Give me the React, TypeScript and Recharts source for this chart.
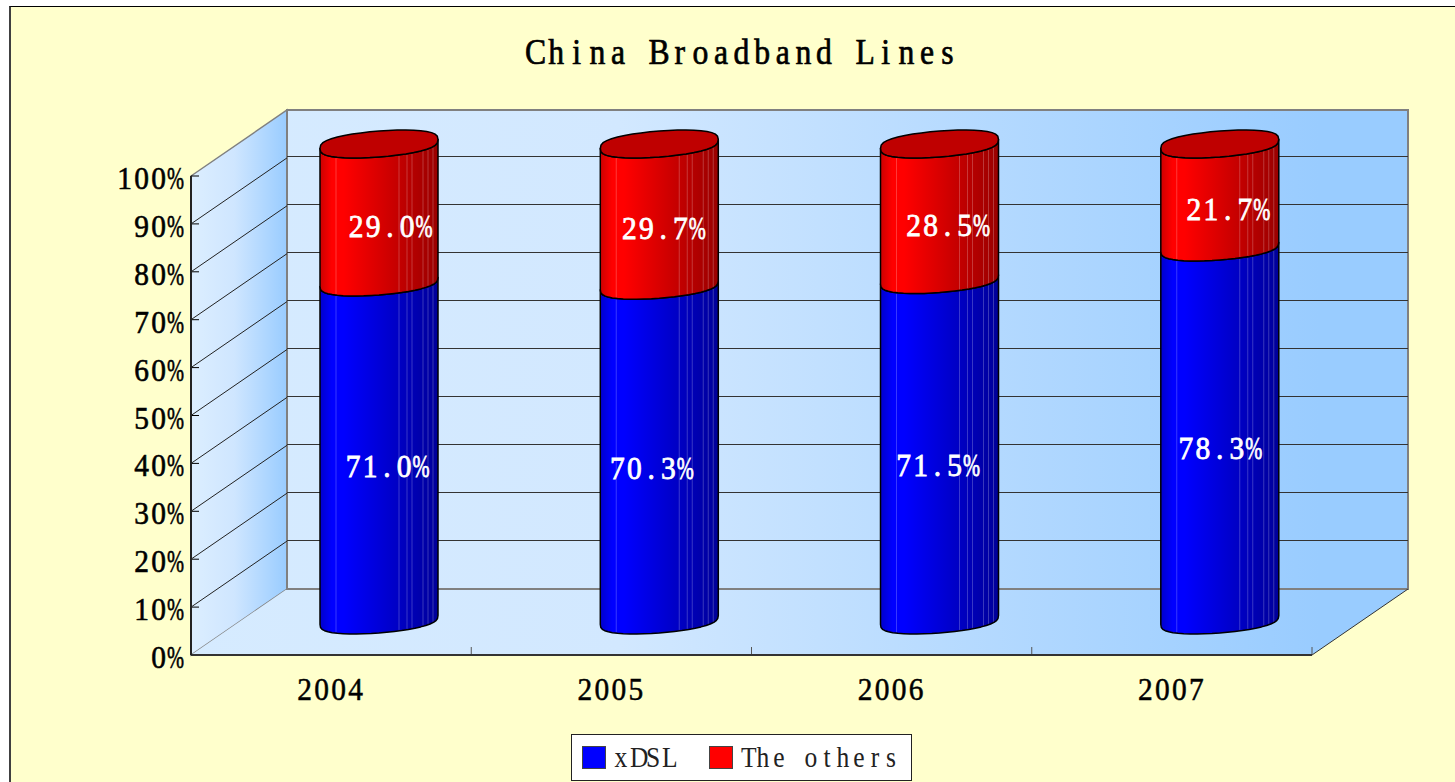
import React from "react";
import { BarChart, Bar, XAxis, YAxis, CartesianGrid, Legend, LabelList } from "recharts";

const YEARS = ["2004", "2005", "2006", "2007"];
const XDSL = [71.0, 70.3, 71.5, 78.3];
const OTHERS = [29.0, 29.7, 28.5, 21.7];
const Y_TICKS = [0, 10, 20, 30, 40, 50, 60, 70, 80, 90, 100];

const rows = YEARS.map((year, i) => ({ year, xdsl: XDSL[i], others: OTHERS[i] }));

// the data labels were hand placed, so each one has its own sideways nudge
const XDSL_LABEL_DX = [8, -8, -2, 0];
const OTHERS_LABEL_DX = [11, 4, 8, 8];

const WIDTH = 1455;
const HEIGHT = 782;
const PLOT = { left: 191, right: 1312, top: 176, bottom: 655 };
const DEPTH_X = 96;
const DEPTH_Y = 66;
const Y_AXIS_WIDTH = 80;
const X_AXIS_HEIGHT = 40;
const BAR_WIDTH = 118;
const CHAR_CELL = 17;

const PAPER = "#FFFFCC";
const EDGE = "#808080";
const SERIF = "'Liberation Serif', serif";

// Lays text out in equal character cells, the way a half-width CJK face does
const CellText = (props: any) => {
  const { text, x, y, cell = CHAR_CELL, fontSize = 31, squeeze = 0.95, fill = "#000", weight = 0.6 } = props;
  const chars: string[] = Array.from(text);
  const start = x - (chars.length * cell) / 2;
  return (
    <g>
      {chars.map((ch, i) =>
        ch === " " ? null : (
          <text
            key={i}
            transform={`translate(${start + cell * (i + 0.5)} ${y}) scale(${ch === "%" ? 0.66 : squeeze} 1)`}
            textAnchor="middle"
            fill={fill}
            stroke={fill}
            strokeWidth={weight}
            fontFamily={SERIF}
            fontSize={fontSize}
          >
            {ch}
          </text>
        )
      )}
    </g>
  );
};

// Tilted, slightly squared-off ellipse standing in for the cylinder's caps
const capPoint = (cx: number, cy: number, halfWidth: number, t: number) => {
  const s = Math.sin(t);
  return [cx + halfWidth * Math.cos(t), cy - 4.5 * Math.cos(t) + 13 * Math.sign(s) * Math.pow(Math.abs(s), 0.72)];
};

const arcPoints = (cx: number, cy: number, halfWidth: number, from: number, to: number, steps = 24) => {
  const pts: number[][] = [];
  for (let i = 0; i <= steps; i++) {
    pts.push(capPoint(cx, cy, halfWidth, from + ((to - from) * i) / steps));
  }
  return pts;
};

const toPath = (pts: number[][]) => pts.map((p, i) => `${i ? "L" : "M"}${p[0].toFixed(1)} ${p[1].toFixed(1)}`).join(" ");

const STRIPES = [16, 79, 87, 92, 103, 108, 113];

const Cylinder = (props: any) => {
  const { x, y, width, height, gradient, capFill } = props;
  const cx = x + width / 2 + DEPTH_X / 2;
  const halfWidth = width / 2;
  const topY = y - DEPTH_Y / 2 + (capFill ? 1 : 0);
  // the foot sits a touch higher on the floor than the mid-depth line
  const foot = y + height >= PLOT.bottom - 1 ? 2 : 0;
  const bottomY = y + height - DEPTH_Y / 2 - foot;
  const body = [...arcPoints(cx, topY, halfWidth, Math.PI, 0), ...arcPoints(cx, bottomY, halfWidth, 0, Math.PI)];
  return (
    <g>
      <path d={toPath(body) + " Z"} fill={`url(#${gradient})`} stroke="#000" strokeWidth={1.5} strokeLinejoin="round" />
      {STRIPES.map((dx) => {
        const t = Math.acos((dx - halfWidth) / halfWidth);
        const a = capPoint(cx, topY, halfWidth, t);
        const b = capPoint(cx, bottomY, halfWidth, t);
        return <line key={dx} x1={a[0]} y1={a[1] + 1} x2={b[0]} y2={b[1] - 1} stroke="#fff" strokeOpacity={0.22} />;
      })}
      {capFill && (
        <path d={toPath(arcPoints(cx, topY, halfWidth, 0, Math.PI * 2, 40)) + " Z"} fill={capFill} stroke="#000" strokeWidth={1.5} />
      )}
    </g>
  );
};

const makeLabel = (nudges: number[]) => (props: any) => {
  const { x, y, width, height, value, index } = props;
  return (
    <CellText
      text={`${value.toFixed(1)}%`}
      x={x + width / 2 + DEPTH_X / 2 + nudges[index]}
      y={y + height / 2 - DEPTH_Y / 2 + 25}
      fill="#fff"
      weight={0.8}
    />
  );
};

const PercentTick = (props: any) => {
  const { x, y, payload } = props;
  const text = `${payload.value}%`;
  return <CellText text={text} x={x - (text.length * CHAR_CELL) / 2} y={y + 13} />;
};

const YearTick = (props: any) => {
  const { x, y, payload } = props;
  return <CellText text={payload.value} x={x - 1} y={y + 24} weight={0.5} />;
};

// Side wall, floor and back wall, sitting in their own layer behind the chart
const Walls = () => {
  const { left, right, top, bottom } = PLOT;
  const band = (right - left) / YEARS.length;
  return (
    <svg width={WIDTH} height={HEIGHT} style={{ position: "absolute", left: 0, top: 0 }}>
      <defs>
        <linearGradient id="backWall" gradientUnits="userSpaceOnUse" x1={191} y1={0} x2={1320} y2={0}>
          <stop offset="0" stopColor="#D6EBFF" />
          <stop offset="0.38" stopColor="#D2E8FF" />
          <stop offset="1" stopColor="#99CCFF" />
        </linearGradient>
        <linearGradient id="sideWall" x1="0" y1="0" x2="1" y2="0">
          <stop offset="0" stopColor="#DCEEFF" />
          <stop offset="0.45" stopColor="#CFE6FF" />
          <stop offset="1" stopColor="#99CCFF" />
        </linearGradient>
      </defs>
      <polygon
        points={`${left},${top} ${left + DEPTH_X},${top - DEPTH_Y} ${left + DEPTH_X},${bottom - DEPTH_Y} ${left},${bottom}`}
        fill="url(#sideWall)"
        stroke={EDGE}
        strokeWidth={1.5}
      />
      <polygon
        points={`${left},${bottom} ${right},${bottom} ${right + DEPTH_X},${bottom - DEPTH_Y} ${left + DEPTH_X},${bottom - DEPTH_Y}`}
        fill="url(#backWall)"
      />
      <rect
        x={left + DEPTH_X}
        y={top - DEPTH_Y}
        width={right - left}
        height={bottom - top}
        fill="url(#backWall)"
        stroke={EDGE}
        strokeWidth={2}
      />
      <line x1={right} y1={bottom} x2={right + DEPTH_X} y2={bottom - DEPTH_Y} stroke="#333" />
      {YEARS.map((year, i) => (
        <line key={year} x1={left + band * (i + 1)} y1={bottom - 8} x2={left + band * (i + 1)} y2={bottom} stroke="#555" />
      ))}
    </svg>
  );
};

// One gridline runs along the side wall and then across the back wall
const gridLine = (props: any) => {
  const { x1, x2, y1, index } = props;
  const edge = y1 <= PLOT.top + 1 || y1 >= PLOT.bottom - 1;
  return (
    <g key={`grid-${index}`}>
      <line x1={x1} y1={y1} x2={x1 + 8} y2={y1} stroke="#000" />
      {!edge && (
        <>
          <line x1={x1} y1={y1} x2={x1 + DEPTH_X} y2={y1 - DEPTH_Y} stroke="#222" />
          <line x1={x1 + DEPTH_X} y1={y1 - 1 - DEPTH_Y} x2={x2 + DEPTH_X} y2={y1 - 1 - DEPTH_Y} stroke="#333" shapeRendering="crispEdges" />
        </>
      )}
    </g>
  );
};

const LEGEND_CELL = 15.9;

const LegendBox = ({ payload }: any) => (
  <div
    style={{
      boxSizing: "border-box",
      width: 341,
      height: 47,
      background: "#fff",
      border: "1.5px solid #222",
      display: "flex",
      alignItems: "center",
      paddingLeft: 10,
      fontFamily: SERIF,
      fontSize: 29,
      color: "#222",
    }}
  >
    {(payload || []).map((item: any, i: number) => (
      <div key={item.value} style={{ display: "flex", alignItems: "center", marginLeft: i ? 32 : 0 }}>
        <div style={{ boxSizing: "border-box", width: 24, height: 23, background: item.color, border: "1.5px solid #444", marginRight: 7 }} />
        {Array.from(item.value as string).map((ch, k) => (
          <span
            key={k}
            style={{ display: "inline-block", width: LEGEND_CELL, textAlign: "center", transform: "scaleX(0.88)", whiteSpace: "pre" }}
          >
            {ch}
          </span>
        ))}
      </div>
    ))}
  </div>
);

const shade = (id: string, bright: string, mid: string, dark: string) => (
  <linearGradient id={id} x1="0" y1="0" x2="1" y2="0">
    <stop offset="0" stopColor={mid} />
    <stop offset="0.1" stopColor={bright} />
    <stop offset="0.2" stopColor={bright} />
    <stop offset="0.6" stopColor={mid} />
    <stop offset="1" stopColor={dark} />
  </linearGradient>
);

export default function App() {
  return (
    <div style={{ position: "absolute", left: 0, top: 0, width: WIDTH, height: HEIGHT, overflow: "hidden", background: "#fff" }}>
      <div style={{ position: "absolute", left: 9, top: 6, width: WIDTH, height: HEIGHT, background: PAPER, borderLeft: "2px solid #404040", borderTop: "1px solid #000" }} />
      <Walls />
      <div style={{ position: "absolute", left: 0, top: 0 }}>
        <BarChart
          width={WIDTH}
          height={HEIGHT}
          data={rows}
          margin={{
            left: PLOT.left - Y_AXIS_WIDTH,
            right: WIDTH - PLOT.right,
            top: PLOT.top,
            bottom: HEIGHT - PLOT.bottom - X_AXIS_HEIGHT,
          }}
        >
          <defs>
            {shade("redBody", "#FF0000", "#CC0000", "#990000")}
            {shade("blueBody", "#0000FF", "#0000CC", "#000099")}
          </defs>
          <CartesianGrid vertical={false} horizontal={gridLine} />
          <XAxis
            dataKey="year"
            height={X_AXIS_HEIGHT}
            tickLine={false}
            axisLine={{ stroke: "#333", strokeWidth: 2 }}
            tickMargin={15}
            tick={<YearTick />}
          />
          <YAxis
            type="number"
            domain={[0, 100]}
            ticks={Y_TICKS}
            interval={0}
            width={Y_AXIS_WIDTH}
            tickLine={false}
            axisLine={{ stroke: "#222", strokeWidth: 2 }}
            tickMargin={0}
            tickSize={7}
            tick={<PercentTick />}
          />
          <Bar
            dataKey="xdsl"
            name="xDSL"
            stackId="share"
            fill="#0000FF"
            barSize={BAR_WIDTH}
            isAnimationActive={false}
            shape={(p: any) => <Cylinder {...p} gradient="blueBody" />}
          >
            <LabelList dataKey="xdsl" content={makeLabel(XDSL_LABEL_DX)} />
          </Bar>
          <Bar
            dataKey="others"
            name="The others"
            stackId="share"
            fill="#FF0000"
            barSize={BAR_WIDTH}
            isAnimationActive={false}
            shape={(p: any) => <Cylinder {...p} gradient="redBody" capFill="#BF0000" />}
          >
            <LabelList dataKey="others" content={makeLabel(OTHERS_LABEL_DX)} />
          </Bar>
          <CellText text="China Broadband Lines" x={741.5} y={64} cell={20.6} fontSize={36} squeeze={0.88} weight={0.7} />
          <Legend
            layout="horizontal"
            verticalAlign="middle"
            align="center"
            itemSorter={null}
            content={<LegendBox />}
            wrapperStyle={{ left: 571, top: 734, width: 341, height: 47 }}
          />
        </BarChart>
      </div>
    </div>
  );
}
